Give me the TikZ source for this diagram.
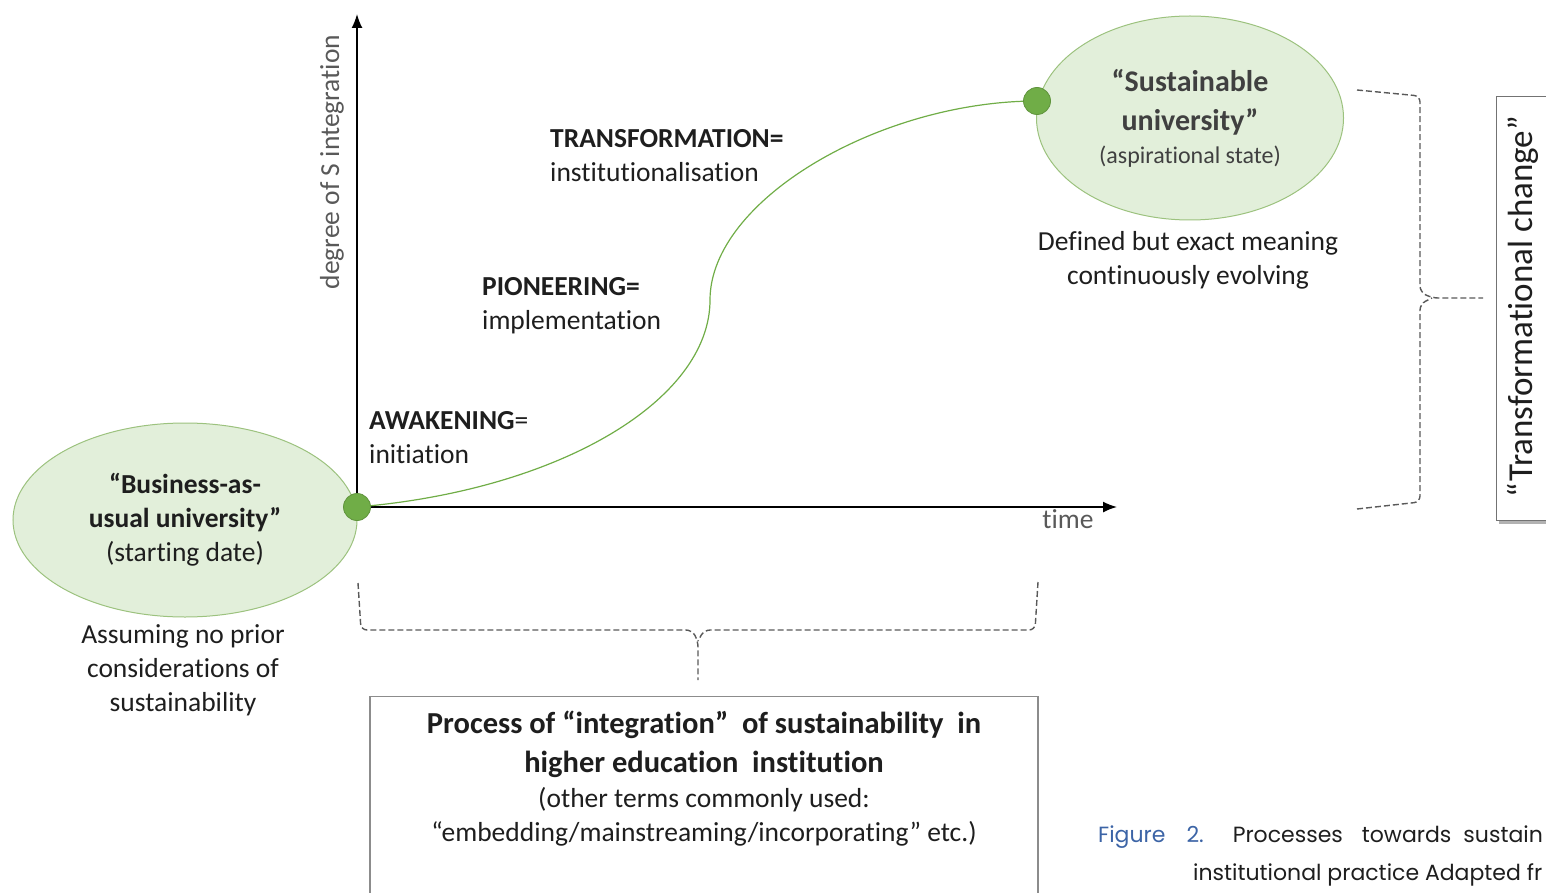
\documentclass[tikz,border=0pt]{standalone}
\usepackage{fontspec}
\setmainfont{Carlito}[Ligatures={NoCommon}]
\newfontfamily\capfont{Poppins}
\usetikzlibrary{shapes.geometric,arrows.meta}

\definecolor{leaf}{HTML}{70AD47}
\definecolor{pale}{HTML}{E2EFDA}
\definecolor{rim}{HTML}{9CC27E}
\definecolor{ink}{HTML}{1E1E1E}
\definecolor{dim}{HTML}{595959}
\definecolor{capblue}{HTML}{3C64A6}

\begin{document}
\begin{tikzpicture}[x=1pt,y=-1pt,
  every node/.style={inner sep=0pt,text=ink},
  body/.style={font=\fontsize{27.5}{34}\selectfont},
  state/.style={ellipse,draw=rim,fill=pale,line width=1pt,align=center},
  dot/.style={circle,fill=leaf,draw=leaf!85!black,line width=0.8pt,minimum size=27pt},
  axis/.style={line width=1.6pt,-{Latex[length=14pt,width=11pt]}},
  growth/.style={leaf,line width=1.2pt},
  stage/.style={body,anchor=north west,align=left},
  brace/.style={draw=dim,line width=1.4pt,dash pattern=on 6pt off 3pt,rounded corners=6pt},
  caption/.style={font=\capfont\fontsize{22}{30}\selectfont,anchor=base west}]

  \def \OX {357}
  \def \OY {507}
  \useasboundingbox (0,0) rectangle (1546,893);

  % states
  \node[state,body,minimum width=344pt,minimum height=194pt] (bau) at (185,520)
  {\textbf{“Business-as-}\\\textbf{usual university”}\\(starting date)};
  \node[state,minimum width=307pt,minimum height=204pt,text=black!75,
    font=\fontsize{30}{39}\selectfont\bfseries] (su) at (1190,118)
  {“Sustainable\\university”\\[-6pt]{\mdseries\fontsize{24}{28}\selectfont(aspirational state)}};

  % axes
  \coordinate (origin) at (\OX,\OY);
  \coordinate (ytip) at (\OX,14);
  \coordinate (xtip) at (1117,\OY);
  \draw[axis] (origin) -- (ytip);
  \draw[axis] (origin) -- (xtip);
  \node[body,text=dim,rotate=90] (ylabel) at (332,162) {degree of S integration};
  \node[body,text=dim] (xlabel) at (1068,519) {time};

  % s-curve
  \coordinate (bend) at (710,300);
  \draw[growth] (origin) .. controls (560,490) and (710,400) .. (bend)
    .. controls (710,200) and (880,101) .. (1037,101);
  \node[dot] (start) at (origin) {};
  \node[dot] (goal) at (1037,101) {};

  % stages
  \node[stage] (awake) at (369,411) {\textbf{AWAKENING}=\\initiation};
  \node[stage] (pioneer) at (482,277) {\textbf{PIONEERING=}\\implementation};
  \node[stage] (transform) at (550,129) {\textbf{TRANSFORMATION=}\\institutionalisation};

  \node[body,align=center] (baunote) at (183,670)
  {Assuming no prior\\considerations of\\sustainability};
  \node[body,align=center] (sunote) at (1188,260)
  {Defined but exact meaning\\continuously evolving};

  % braces
  \coordinate (bl) at (358,583);
  \coordinate (br) at (1038,582);
  \coordinate (btip) at (698,680);
  \draw[brace] (bl) -- (361,630) -- (692,630) -- (698,641) -- (btip);
  \draw[brace] (br) -- (1035,630) -- (704,630) -- (698,641);
  \coordinate (rt) at (1357,90);
  \coordinate (rb) at (1357,509);
  \coordinate (rtip) at (1483,298);
  \draw[brace] (rt) -- (1420,96) -- (1420,292) -- (1432,298) -- (rtip);
  \draw[brace] (rb) -- (1420,502) -- (1420,304) -- (1432,298);

  % process box
  \node[draw=black!45,line width=1.2pt,fill=white,minimum width=668pt,minimum height=230pt,
    anchor=north] (procbox) at (704,696) {};
  \node[body,align=center,anchor=north] (proctext) at (704,711)
  {\textbf{\fontsize{30.5}{34}\selectfont Process of “integration”\ \ of sustainability\ \ in}\\[5pt]
   \textbf{\fontsize{30.5}{34}\selectfont higher education\ \ institution}\\[1pt]
   (other terms commonly used:\\
   “embedding/mainstreaming/incorporating”\ etc.)};

  % transformational change
  \node[fill=black!30,minimum width=80pt,minimum height=424pt,anchor=north west] (tcshade) at (1499,100) {};
  \node[draw=black!55,line width=1.2pt,fill=white,minimum width=80pt,minimum height=424pt,
    anchor=north west] (tcbox) at (1496,96) {};
  \node[font=\fontsize{35}{40}\selectfont,rotate=90] (tclabel) at (1523,307) {“Transformational change”};

  % caption
  \node[caption] (figcap) at (1098,842)
  {\textcolor{capblue}{Figure\hspace{21pt}2.}\hspace{29pt}Processes\hspace{19pt}towards\hspace{12pt}sustain};
  \node[caption] (figcap2) at (1193,880) {institutional practice Adapted fr};

\end{tikzpicture}
\end{document}
